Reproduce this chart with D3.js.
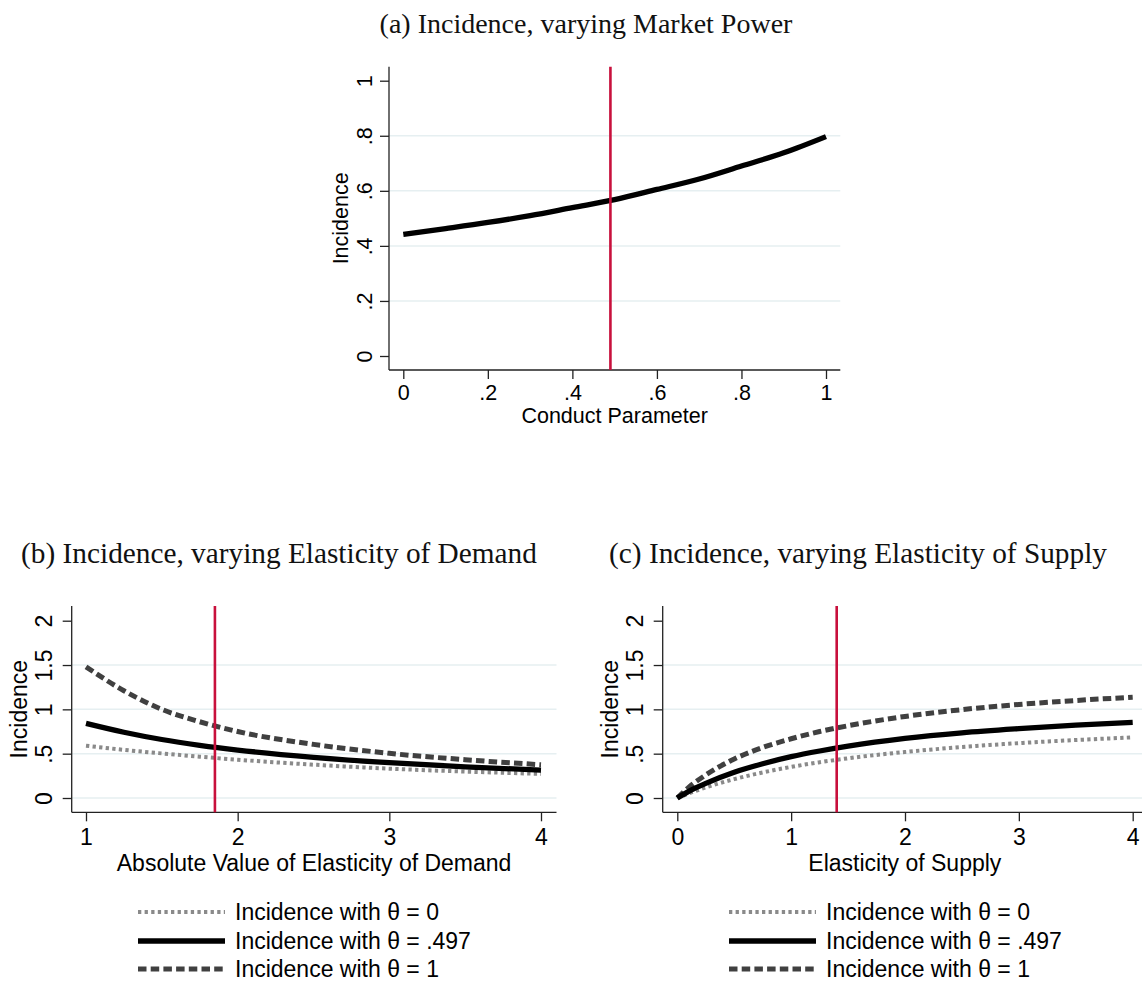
<!DOCTYPE html>
<html>
<head>
<meta charset="utf-8">
<script src="https://cdn.jsdelivr.net/npm/d3@7"></script>
<style>
  html, body { margin: 0; padding: 0; background: #fff; }
  svg { display: block; }
</style>
</head>
<body>
<svg id="chart" width="1142" height="983"></svg>
<script>
// ---------------- data ----------------
// Panel (a): incidence vs conduct parameter
const conductX = [0, 0.1, 0.2, 0.3, 0.4, 0.5, 0.6, 0.7, 0.8, 0.9, 1.0];
const conductIncidence = [0.442, 0.463, 0.485, 0.510, 0.539, 0.568, 0.605, 0.643, 0.690, 0.738, 0.797];
const conductMarker = 0.49;
const aXTicks = [0, 0.2, 0.4, 0.6, 0.8, 1];
const aXTickLabels = ["0", ".2", ".4", ".6", ".8", "1"];
const aYTicks = [0, 0.2, 0.4, 0.6, 0.8, 1];
const aYTickLabels = ["0", ".2", ".4", ".6", ".8", "1"];
const aGrid = [0.2, 0.4, 0.6, 0.8];

// Panel (b): incidence vs |elasticity of demand|
const demandX = [1, 1.25, 1.5, 1.75, 2, 2.5, 3, 3.5, 4];
const demandTheta0 = [0.590, 0.543, 0.503, 0.466, 0.432, 0.376, 0.331, 0.298, 0.272];
const demandTheta497 = [0.842, 0.742, 0.660, 0.595, 0.541, 0.459, 0.398, 0.352, 0.314];
const demandTheta1 = [1.480, 1.210, 1.000, 0.860, 0.750, 0.605, 0.504, 0.432, 0.375];
const demandMarker = 1.85;
const bXTicks = [1, 2, 3, 4];

// Panel (c): incidence vs elasticity of supply
const supplyX = [0, 0.1, 0.25, 0.5, 0.75, 1, 1.25, 1.5, 2, 2.5, 3, 3.5, 4];
const supplyTheta0 = [0, 0.051, 0.119, 0.213, 0.288, 0.351, 0.403, 0.448, 0.519, 0.575, 0.619, 0.654, 0.684];
const supplyTheta497 = [0, 0.075, 0.165, 0.290, 0.386, 0.466, 0.530, 0.585, 0.672, 0.735, 0.782, 0.822, 0.853];
const supplyTheta1 = [0, 0.120, 0.260, 0.440, 0.570, 0.668, 0.750, 0.815, 0.920, 0.997, 1.055, 1.100, 1.137];
const supplyMarker = 1.4;
const cXTicks = [0, 1, 2, 3, 4];

const bcYTicks = [0, 0.5, 1, 1.5, 2];
const bcYTickLabels = ["0", ".5", "1", "1.5", "2"];
const bcGrid = [0, 0.5, 1, 1.5];

const legendLabels = ["Incidence with \u03b8 = 0", "Incidence with \u03b8 = .497", "Incidence with \u03b8 = 1"];

// ---------------- styles ----------------
const SANS = "'Liberation Sans', Arial, Helvetica, sans-serif";
const SERIF = "'Liberation Serif', 'Times New Roman', serif";
const RED = "#c8103c";
const GRID = "#e6eff1";
const seriesStyles = [
  { stroke: "#8a8a8a", width: 4, dash: "3.3,3.3" },
  { stroke: "#000000", width: 5.3, dash: null },
  { stroke: "#404040", width: 5, dash: "8.5,4.2" }
];

const svg = d3.select("#chart");

function panel(cfg) {
  const g = svg.append("g");
  const x = d3.scaleLinear().domain(cfg.xDomain).range(cfg.xRange);
  const y = d3.scaleLinear().domain(cfg.yDomain).range(cfg.yRange);
  const [px0, px1] = cfg.plotX;
  const [py0, py1] = cfg.plotY;

  // gridlines
  g.selectAll("line.grid").data(cfg.grid).enter().append("line")
    .attr("x1", px0).attr("x2", px1)
    .attr("y1", d => y(d)).attr("y2", d => y(d))
    .attr("stroke", GRID).attr("stroke-width", 1.5);

  // y axis
  const yAxis = d3.axisLeft(y).tickValues(cfg.yTicks)
    .tickFormat((d, i) => cfg.yTickLabels[i]).tickSize(cfg.tick).tickSizeOuter(0);
  const ya = g.append("g").attr("transform", `translate(${px0},0)`).call(yAxis);
  ya.select(".domain").attr("d", `M0,${py0}V${py1}`).attr("stroke", "#222").attr("stroke-width", 1.3);
  ya.selectAll(".tick line").attr("stroke", "#222").attr("stroke-width", 1.3);
  ya.selectAll(".tick text")
    .attr("font-family", SANS).attr("font-size", cfg.fs).attr("fill", "#000")
    .attr("x", null).attr("dy", null)
    .attr("text-anchor", "middle")
    .attr("transform", `translate(${-cfg.yLabGap},0) rotate(-90)`)
    .attr("y", 0);

  // x axis
  const xAxis = d3.axisBottom(x).tickValues(cfg.xTicks)
    .tickFormat((d, i) => cfg.xTickLabels[i]).tickSize(cfg.tick).tickSizeOuter(0);
  const xa = g.append("g").attr("transform", `translate(0,${py1})`).call(xAxis);
  xa.select(".domain").attr("d", `M${px0},0H${px1}`).attr("stroke", "#222").attr("stroke-width", 1.3);
  xa.selectAll(".tick line").attr("stroke", "#222").attr("stroke-width", 1.3);
  xa.selectAll(".tick text")
    .attr("font-family", SANS).attr("font-size", cfg.fs).attr("fill", "#000")
    .attr("dy", null).attr("y", cfg.xLabGap);

  // axis titles
  g.append("text").attr("x", (px0 + px1) / 2).attr("y", py1 + cfg.xTitleGap)
    .attr("text-anchor", "middle").attr("font-family", SANS).attr("font-size", cfg.fs)
    .text(cfg.xTitle);
  g.append("text")
    .attr("transform", `translate(${px0 - cfg.yTitleGap},${(py0 + py1) / 2}) rotate(-90)`)
    .attr("text-anchor", "middle").attr("font-family", SANS).attr("font-size", cfg.fs)
    .text("Incidence");

  // series
  const line = d3.line().x(d => x(d[0])).y(d => y(d[1])).curve(d3.curveMonotoneX);
  cfg.series.forEach(s => {
    const p = g.append("path")
      .datum(cfg.xs.map((v, i) => [v, s.values[i]]))
      .attr("d", line).attr("fill", "none")
      .attr("stroke", s.style.stroke).attr("stroke-width", s.style.width)
      .attr("stroke-linejoin", "round");
    if (s.style.dash) p.attr("stroke-dasharray", s.style.dash);
  });

  // marker line
  g.append("line").attr("x1", x(cfg.marker)).attr("x2", x(cfg.marker))
    .attr("y1", py0).attr("y2", py1)
    .attr("stroke", RED).attr("stroke-width", 2.6);

  // title
  svg.append("text").attr("x", cfg.titleX).attr("y", cfg.titleY)
    .attr("text-anchor", "middle").attr("font-family", SERIF).attr("font-size", cfg.titleFs)
    .attr("fill", "#111").text(cfg.title);

  // legend
  if (cfg.legendX !== undefined) {
    const lg = svg.append("g");
    legendLabels.forEach((lab, i) => {
      const yy = cfg.legendY[i];
      const st = seriesStyles[i];
      const ln = lg.append("line").attr("x1", cfg.legendX).attr("x2", cfg.legendX + 87)
        .attr("y1", yy).attr("y2", yy)
        .attr("stroke", st.stroke).attr("stroke-width", st.width);
      if (st.dash) ln.attr("stroke-dasharray", st.dash);
      lg.append("text").attr("x", cfg.legendX + 97).attr("y", yy + 8)
        .attr("font-family", SANS).attr("font-size", 23).text(lab);
    });
  }
}

// Panel (a)
panel({
  title: "(a) Incidence, varying Market Power", titleX: 586, titleY: 33, titleFs: 28,
  xDomain: [0, 1], xRange: [403.3, 826], yDomain: [0, 1], yRange: [356, 80.7],
  plotX: [389, 840.3], plotY: [66.7, 370],
  xTicks: aXTicks, xTickLabels: aXTickLabels, yTicks: aYTicks, yTickLabels: aYTickLabels,
  grid: aGrid, tick: 9, fs: 21.5, yLabGap: 17, xLabGap: 30, xTitleGap: 53, yTitleGap: 41,
  xTitle: "Conduct Parameter",
  xs: conductX,
  series: [{ values: conductIncidence, style: seriesStyles[1] }],
  marker: conductMarker
});

// Panel (b)
panel({
  title: "(b) Incidence, varying Elasticity of Demand", titleX: 279, titleY: 563, titleFs: 29.3,
  xDomain: [1, 4], xRange: [86, 541], yDomain: [0, 2], yRange: [798, 620.7],
  plotX: [71.7, 556.5], plotY: [606, 812.3],
  xTicks: bXTicks, xTickLabels: bXTicks.map(String), yTicks: bcYTicks, yTickLabels: bcYTickLabels,
  grid: bcGrid, tick: 9, fs: 23, yLabGap: 19.5, xLabGap: 32.7, xTitleGap: 58.5, yTitleGap: 44.7,
  xTitle: "Absolute Value of Elasticity of Demand",
  xs: demandX,
  series: [
    { values: demandTheta0, style: seriesStyles[0] },
    { values: demandTheta1, style: seriesStyles[2] },
    { values: demandTheta497, style: seriesStyles[1] }
  ],
  marker: demandMarker,
  legendX: 138, legendY: [912, 941, 969]
});

// Panel (c)
panel({
  title: "(c) Incidence, varying Elasticity of Supply", titleX: 858, titleY: 563, titleFs: 29.3,
  xDomain: [0, 4], xRange: [677.3, 1132.7], yDomain: [0, 2], yRange: [798, 620.7],
  plotX: [662.7, 1147], plotY: [606, 812.3],
  xTicks: cXTicks, xTickLabels: cXTicks.map(String), yTicks: bcYTicks, yTickLabels: bcYTickLabels,
  grid: bcGrid, tick: 9, fs: 23, yLabGap: 19.5, xLabGap: 32.7, xTitleGap: 58.5, yTitleGap: 44.7,
  xTitle: "Elasticity of Supply",
  xs: supplyX,
  series: [
    { values: supplyTheta0, style: seriesStyles[0] },
    { values: supplyTheta1, style: seriesStyles[2] },
    { values: supplyTheta497, style: seriesStyles[1] }
  ],
  marker: supplyMarker,
  legendX: 729, legendY: [912, 941, 969]
});
</script>
</body>
</html>
